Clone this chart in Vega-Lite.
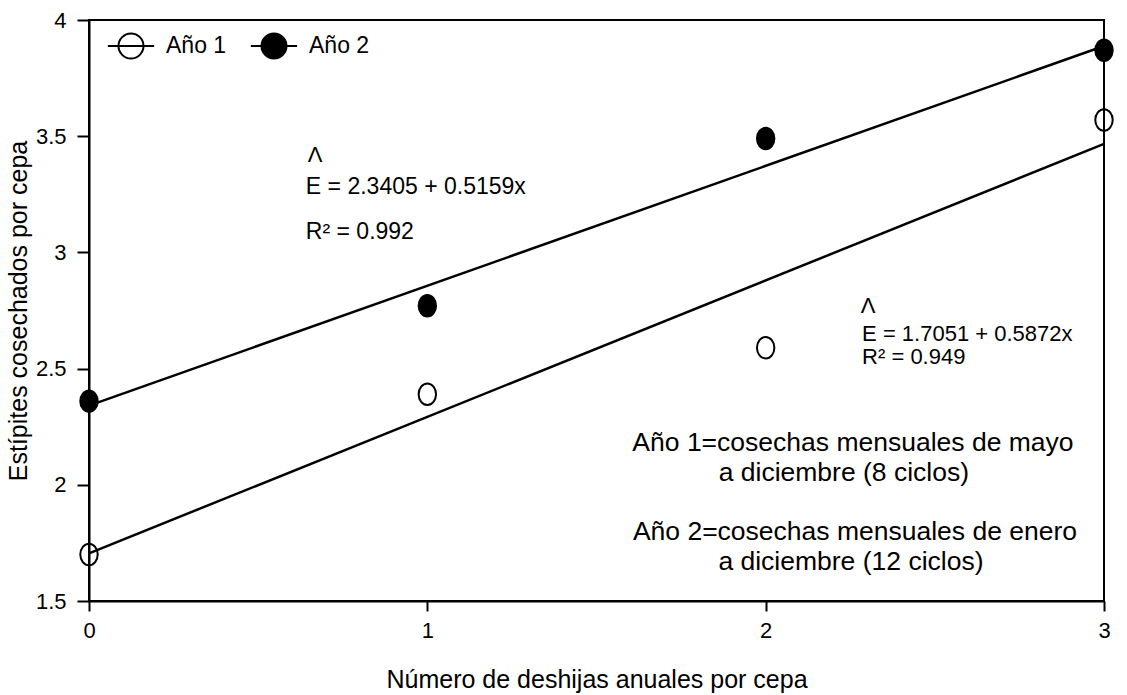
{
  "$schema": "https://vega.github.io/schema/vega-lite/v6.json",
  "width": 1015,
  "height": 581,
  "autosize": {"type": "none"},
  "padding": {"left": 89, "top": 20, "right": 23, "bottom": 94},
  "background": "white",
  "config": {
    "font": "Liberation Sans",
    "view": {"stroke": "black", "strokeWidth": 2},
    "axis": {
      "domainColor": "black", "domainWidth": 2, "tickColor": "black", "tickWidth": 2,
      "labelColor": "black", "titleColor": "black", "grid": false,
      "labelFont": "Liberation Sans", "titleFont": "Liberation Sans", "titleFontWeight": "normal"
    }
  },
  "datasets": {
    "points": [
      {"deshijas": 0, "estipites": 1.70, "serie": "Año 1"},
      {"deshijas": 1, "estipites": 2.39, "serie": "Año 1"},
      {"deshijas": 2, "estipites": 2.59, "serie": "Año 1"},
      {"deshijas": 3, "estipites": 3.57, "serie": "Año 1"},
      {"deshijas": 0, "estipites": 2.36, "serie": "Año 2"},
      {"deshijas": 1, "estipites": 2.77, "serie": "Año 2"},
      {"deshijas": 2, "estipites": 3.49, "serie": "Año 2"},
      {"deshijas": 3, "estipites": 3.87, "serie": "Año 2"}
    ],
    "lines": [
      {"deshijas": 0, "estipites": 1.7051, "serie": "Año 1"},
      {"deshijas": 3, "estipites": 3.4667, "serie": "Año 1"},
      {"deshijas": 0, "estipites": 2.3405, "serie": "Año 2"},
      {"deshijas": 3, "estipites": 3.8882, "serie": "Año 2"}
    ],
    "equations": [
      {"x": 0.641, "y": 3.281, "label": "E = 2.3405 + 0.5159x"},
      {"x": 0.641, "y": 3.088, "label": "R² = 0.992"}
    ],
    "equations2": [
      {"x": 2.285, "y": 2.648, "label": "E = 1.7051 + 0.5872x"},
      {"x": 2.285, "y": 2.548, "label": "R² = 0.949"}
    ],
    "hats": [
      {"x": 0.668, "y": 3.42, "label": "Λ"},
      {"x": 2.303, "y": 2.77, "label": "Λ"}
    ],
    "notes": [
      {"x": 2.258, "y": 2.18, "label": "Año 1=cosechas mensuales de mayo"},
      {"x": 2.231, "y": 2.051, "label": "a diciembre (8 ciclos)"},
      {"x": 2.264, "y": 1.797, "label": "Año 2=cosechas mensuales de enero"},
      {"x": 2.252, "y": 1.668, "label": "a diciembre (12 ciclos)"}
    ]
  },
  "layer": [
    {
      "data": {"name": "lines"},
      "mark": {"type": "line", "color": "black", "strokeWidth": 2.5},
      "encoding": {
        "x": {"field": "deshijas", "type": "quantitative",
          "scale": {"domain": [0, 3], "nice": false, "zero": false},
          "axis": {"values": [0, 1, 2, 3], "format": "~g", "labelFlush": false, "tickSize": 10, "labelPadding": 9, "labelFontSize": 22,
                   "title": "Número de deshijas anuales por cepa", "titleFontSize": 25, "titlePadding": 26}},
        "y": {"field": "estipites", "type": "quantitative",
          "scale": {"domain": [1.5, 4], "nice": false, "zero": false},
          "axis": {"values": [1.5, 2, 2.5, 3, 3.5, 4], "format": "~g", "labelFlush": false, "tickSize": 12, "labelPadding": 11, "labelFontSize": 22,
                   "title": "Estípites cosechados por cepa", "titleFontSize": 25, "titlePadding": 4}},
        "detail": {"field": "serie"}
      }
    },
    {
      "data": {"name": "points"},
      "mark": {"type": "point", "filled": true, "stroke": "black", "strokeWidth": 2, "opacity": 1,
               "shape": "M0,-1.05 A0.85,1.05 0 1,1 0,1.05 A0.85,1.05 0 1,1 0,-1.05 Z", "size": 420},
      "encoding": {
        "x": {"field": "deshijas", "type": "quantitative"},
        "y": {"field": "estipites", "type": "quantitative"},
        "fill": {"field": "serie", "type": "nominal",
          "scale": {"domain": ["Año 1", "Año 2"], "range": ["transparent", "black"]},
          "legend": {
            "title": null, "orient": "none", "legendX": 28.5, "legendY": 12.5, "direction": "horizontal",
            "symbolType": "M-1.85,0 L1.85,0 M-1,0 A1,1 0 1,0 1,0 A1,1 0 1,0 -1,0 Z",
            "symbolSize": 625, "symbolStrokeColor": "black", "symbolStrokeWidth": 2,
            "labelFontSize": 23, "labelColor": "black", "labelOffset": 21.5, "columnPadding": 20, "padding": 0
          }
        }
      }
    },
    {
      "data": {"name": "equations"},
      "mark": {"type": "text", "align": "left", "baseline": "middle", "fontSize": 23, "color": "black"},
      "encoding": {
        "x": {"field": "x", "type": "quantitative"},
        "y": {"field": "y", "type": "quantitative"},
        "text": {"field": "label"}
      }
    },
    {
      "data": {"name": "equations2"},
      "mark": {"type": "text", "align": "left", "baseline": "middle", "fontSize": 22, "color": "black"},
      "encoding": {
        "x": {"field": "x", "type": "quantitative"},
        "y": {"field": "y", "type": "quantitative"},
        "text": {"field": "label"}
      }
    },
    {
      "data": {"name": "hats"},
      "mark": {"type": "text", "align": "center", "baseline": "middle", "fontSize": 22, "color": "black"},
      "encoding": {
        "x": {"field": "x", "type": "quantitative"},
        "y": {"field": "y", "type": "quantitative"},
        "text": {"field": "label"}
      }
    },
    {
      "data": {"name": "notes"},
      "mark": {"type": "text", "align": "center", "baseline": "middle", "fontSize": 26.5, "color": "black"},
      "encoding": {
        "x": {"field": "x", "type": "quantitative"},
        "y": {"field": "y", "type": "quantitative"},
        "text": {"field": "label"}
      }
    }
  ]
}
